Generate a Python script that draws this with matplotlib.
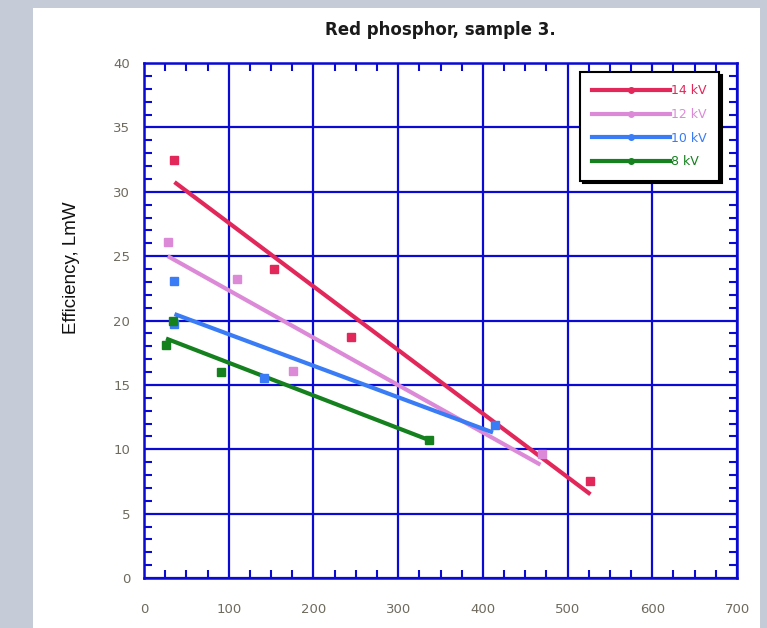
import matplotlib.pyplot as plt
from matplotlib.patches import Rectangle
from matplotlib.lines import Line2D
from matplotlib.ticker import MultipleLocator

# measured points, power (x) vs efficiency (y)
x_14 = [36, 153, 244, 527]
y_14 = [32.5, 24.0, 18.7, 7.5]
x_12 = [28, 110, 176, 470]
y_12 = [26.1, 23.2, 16.1, 9.6]
x_10 = [35, 35, 142, 414]
y_10 = [23.1, 19.7, 15.5, 11.9]
x_8 = [34, 26, 91, 337]
y_8 = [20.0, 18.1, 16.0, 10.7]

# trend lines (start / end)
fit_x_14 = [36, 527]
fit_y_14 = [30.75, 6.5]
fit_x_12 = [28, 468]
fit_y_12 = [25.0, 8.8]
fit_x_10 = [36, 412]
fit_y_10 = [20.5, 11.3]
fit_x_8 = [26, 337]
fit_y_8 = [18.6, 10.7]

labels = ["14 kV", "12 kV", "10 kV", "8 kV"]
colors = ["#e2275a", "#dc8ad8", "#3a7cf5", "#14801e"]

fig = plt.figure(figsize=(7.67, 6.28), dpi=100, facecolor="#c5cbd7")
fig.patches.append(Rectangle((33 / 767, 0), 727 / 767, 1 - 8 / 628,
                             transform=fig.transFigure, facecolor="white",
                             edgecolor="none", zorder=-5))

ax = fig.add_axes([144 / 767, 1 - 578 / 628, 593 / 767, 515 / 628])
ax.set_zorder(2)
ax.set_facecolor("white")

series = [(x_14, y_14, fit_x_14, fit_y_14),
          (x_12, y_12, fit_x_12, fit_y_12),
          (x_10, y_10, fit_x_10, fit_y_10),
          (x_8, y_8, fit_x_8, fit_y_8)]
for (xs, ys, fx, fy), c in zip(series, colors):
    ax.plot(fx, fy, color=c, lw=3, solid_capstyle="butt", zorder=3)
    ax.plot(xs, ys, "s", color=c, ms=5.5, zorder=4)

grid_col = "#0a0ad2"
ax.set_xlim(0, 700)
ax.set_ylim(0, 40)
ax.xaxis.set_major_locator(MultipleLocator(100))
ax.xaxis.set_minor_locator(MultipleLocator(25))
ax.yaxis.set_major_locator(MultipleLocator(5))
ax.yaxis.set_minor_locator(MultipleLocator(1))
ax.grid(which="major", color=grid_col, lw=1.6)
ax.set_axisbelow(True)
for s in ax.spines.values():
    s.set_color(grid_col)
    s.set_linewidth(1.8)
ax.tick_params(which="both", direction="in", top=True, right=True,
               color=grid_col, width=1.5)
ax.tick_params(which="major", length=0)
ax.tick_params(which="minor", length=6)
ax.tick_params(axis="x", which="major", pad=18, labelsize=9.5, labelcolor="#6e6a5e")
ax.tick_params(axis="y", which="major", pad=10, labelsize=9.5, labelcolor="#6e6a5e")

fig.text(440 / 767, 1 - 30 / 628, "Red phosphor, sample 3.", ha="center",
         va="center", fontsize=12, fontweight="bold", color="#1a1a1a")
fig.text(72 / 767, 1 - 268 / 628, "Efficiency, LmW", rotation=90, ha="center",
         va="center", fontsize=13.5, family="Liberation Sans", color="#111111")

handles = [Line2D([0], [0], color=c, lw=3, marker="o", ms=4) for c in colors]
leg = ax.legend(handles, labels, loc="upper right", bbox_to_anchor=(0.97, 0.983),
                fancybox=False, shadow={"color": "black", "alpha": 1},
                handlelength=6.2, handletextpad=0.1, labelspacing=0.85,
                fontsize=9, labelcolor="linecolor", borderpad=1.0,
                borderaxespad=0, framealpha=1)
leg.get_frame().set_edgecolor("black")
leg.get_frame().set_linewidth(1.5)

fig.savefig("out.png", dpi=100, facecolor=fig.get_facecolor())
